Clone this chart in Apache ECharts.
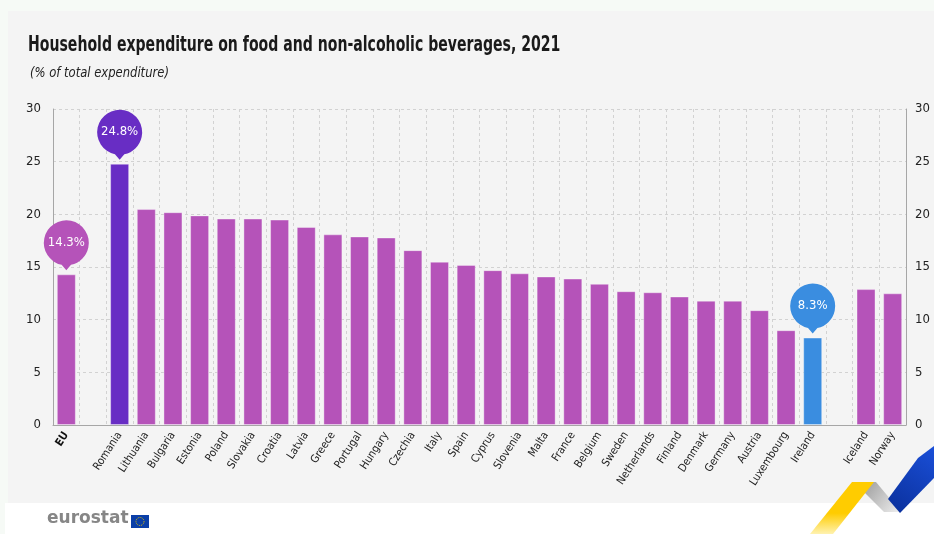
<!DOCTYPE html>
<html><head><meta charset="utf-8">
<script src="https://cdn.jsdelivr.net/npm/echarts@6/dist/echarts.min.js"></script>
<style>html,body{margin:0;padding:0;background:#f6faf6;}#c{width:934px;height:534px;}</style>
</head><body><div id="c"></div>
<script>
var categories = ['EU','','Romania','Lithuania','Bulgaria','Estonia','Poland','Slovakia','Croatia','Latvia','Greece','Portugal','Hungary','Czechia','Italy','Spain','Cyprus','Slovenia','Malta','France','Belgium','Sweden','Netherlands','Finland','Denmark','Germany','Austria','Luxembourg','Ireland',' ','Iceland','Norway'];
var values = [14.3,null,24.8,20.5,20.2,19.9,19.6,19.6,19.5,18.8,18.1,17.9,17.8,16.6,15.5,15.2,14.7,14.4,14.1,13.9,13.4,12.7,12.6,12.2,11.8,11.8,10.9,9.0,8.3,null,12.9,12.5];
var highlights = {'Romania':'#682dc4','Ireland':'#3a8de0'};
var bubbles = ['EU','Romania','Ireland'];
var titleText = 'Household expenditure on food and non-alcoholic beverages, 2021';
var subtitleText = '(% of total expenditure)';

var FONT = '"Liberation Sans Narrow","DejaVu Sans Condensed","Noto Sans",sans-serif';
var BAR = '#b553b9';

var barData = categories.map(function(c,i){
  if (values[i] === null) return '-';
  return {value: values[i], itemStyle:{color: highlights[c] || BAR}};
});
var mpData = bubbles.map(function(c){
  var i = categories.indexOf(c);
  return {coord:[c, values[i]], value: values[i].toFixed(1)+'%', itemStyle:{color: highlights[c] || BAR}};
});

var chart = echarts.init(document.getElementById('c'));
var axisLblY = {fontFamily: FONT, fontSize: 13, color:'#222'};
chart.setOption({
  backgroundColor: '#f6faf6',
  animation: false,
  graphic: [
    {type:'rect', z:-10, shape:{x:8, y:11, width:926, height:492}, style:{fill:'#f4f4f4'}},
    {type:'rect', z:-10, shape:{x:5, y:503, width:929, height:31}, style:{fill:'#ffffff'}},
    {type:'text', z:5, x:28, y:35, scaleX:0.745, originX:0, originY:0,
     style:{text:titleText, fontFamily: FONT, fontSize:21, fontWeight:'bold', fill:'#1a1a1a'}},
    {type:'text', z:5, x:30, y:66, scaleX:0.92, originX:0, originY:0,
     style:{text:subtitleText, fontFamily: FONT, fontSize:14, fontStyle:'italic', fill:'#222'}},
    {type:'polygon', z:-5, shape:{points:[[852,482],[874,482],[833,534],[810,534]]},
     style:{fill:{type:'linear',x:0,y:0,x2:0,y2:1,colorStops:[{offset:0,color:'#ffcc00'},{offset:0.6,color:'#ffcc00'},{offset:1,color:'#fff2b0'}]}}},
    {type:'polygon', z:-6, shape:{points:[[868,482],[876,482],[901,512],[884,512],[862,490]]},
     style:{fill:{type:'linear',x:0,y:0,x2:1,y2:1,colorStops:[{offset:0,color:'#9a9a9a'},{offset:1,color:'#f0f0f0'}]}}},
    {type:'polygon', z:-5, shape:{points:[[918,458],[934,446],[934,478],[900,513],[888,499]]},
     style:{fill:{type:'linear',x:0,y:1,x2:1,y2:0,colorStops:[{offset:0,color:'#0a2f9a'},{offset:1,color:'#1a4fd8'}]}}},
    {type:'text', z:5, left:47, top:510, style:{text:'eurostat', fontFamily:'"DejaVu Sans","Noto Sans",sans-serif', fontSize:17, fontWeight:'bold', fill:'#868686'}},
    {type:'rect', z:5, shape:{x:131, y:515, width:18, height:13}, style:{fill:'#0b3fa8'}},
    {type:'circle', z:6, shape:{cx:140, cy:521.5, r:4}, style:{fill:'none', stroke:'#e8c400', lineWidth:1, lineDash:[1,1]}}
  ],
  grid: {left: 53, right: 28, top: 109, bottom: 109, containLabel:false},
  xAxis: {
    type:'category', data: categories,
    axisLine:{show:true, lineStyle:{color:'#a6a6a6', width:1}},
    axisTick:{show:false},
    splitLine:{show:true, interval:0, lineStyle:{color:'#d2d2d2', type:[3,3], width:1}},
    axisLabel:{interval:0, rotate:57, margin:8, fontFamily: FONT, fontSize:11, color:'#222',
      formatter:function(v){ return v==='EU' ? '{b|EU}' : v; },
      rich:{b:{fontFamily: FONT, fontSize:11, fontWeight:'bold', color:'#111'}}}
  },
  yAxis: [
    {type:'value', min:0, max:30, interval:5, position:'left',
     axisLine:{show:true, lineStyle:{color:'#a6a6a6'}}, axisTick:{show:false},
     axisLabel: Object.assign({margin:12}, axisLblY),
     splitLine:{show:true, lineStyle:{color:'#d2d2d2', type:[3,3]}}},
    {type:'value', min:0, max:30, interval:5, position:'right',
     axisLine:{show:true, lineStyle:{color:'#a6a6a6'}}, axisTick:{show:false},
     axisLabel: Object.assign({margin:9}, axisLblY),
     splitLine:{show:false}}
  ],
  series: [{
    type:'bar', data: barData, barWidth: 19, yAxisIndex:0,
    itemStyle:{borderColor:'rgba(255,255,255,0.35)', borderWidth:1},
    markPoint:{
      symbol:'path://M17.8 44.5 A22.5 22.5 0 1 1 27.2 44.5 L22.5 50 Z',
      symbolSize:[45,50], symbolOffset:[0,-29],
      label:{show:true, position:'inside', offset:[0,-3], color:'#fff', fontFamily: FONT, fontSize:13,
        formatter:function(p){ return p.value; }},
      data: mpData
    }
  }]
});
</script></body></html>
